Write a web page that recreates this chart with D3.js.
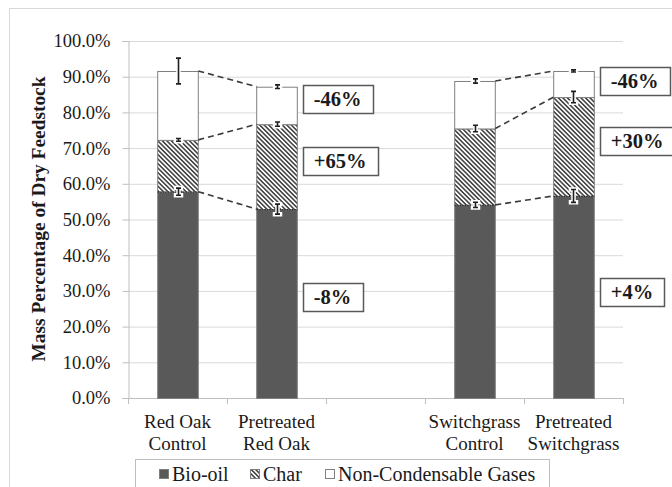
<!DOCTYPE html>
<html>
<head>
<meta charset="utf-8">
<script src="https://cdn.jsdelivr.net/npm/d3@7/dist/d3.min.js"></script>
<style>
body { margin: 0; background: #fff; }
svg { display: block; }
</style>
</head>
<body>
<div id="chart"></div>
<script>
var width = 672,
    height = 487;

function serifFont(size, bold) {
    return (bold ? 'bold ' : '') + size + "px 'Times New Roman'";
}

// categories (two-line labels), the third slot is an empty spacer
var categories = [["Red Oak", "Control"], ["Pretreated", "Red Oak"], ["", ""], ["Switchgrass", "Control"], ["Pretreated", "Switchgrass"]];
var seriesNames = ["Bio-oil", "Char", "Non-Condensable Gases"];

// mass percentages
var bioOil = [57.8, 52.9, 0, 54.1, 56.6];
var charYield = [14.5, 23.8, 0, 21.4, 27.7];
var gases = [19.3, 10.5, 0, 13.3, 7.3];

// error bar half-widths
var bioOilErr = [1.0, 1.4, 0, 0.75, 1.8];
var charErr = [0.4, 0.6, 0, 0.9, 1.6];
var gasesErr = [3.6, 0.5, 0, 0.6, 0.3];

// change annotations: control -> pretreated
var pairs = [[0, 1], [3, 4]];
var redOakChange = ["-8%", "+65%", "-46%"];
var switchgrassChange = ["+4%", "+30%", "-46%"];
var redOakLabelAt = [28.3, 66.4, 83.8];
var switchgrassLabelAt = [29.8, 72.0, 88.8];

var yTicks = [0, 10, 20, 30, 40, 50, 60, 70, 80, 90, 100];

var plot = { left: 128, right: 623, top: 41, bottom: 398 };

var svg = d3.select('#chart')
    .append('svg')
    .attr('width', width)
    .attr('height', height);

var defs = svg.append('defs');
var pat = defs.append('pattern')
    .attr('id', 'hatch')
    .attr('patternUnits', 'userSpaceOnUse')
    .attr('width', 3.2)
    .attr('height', 3.2)
    .attr('patternTransform', 'rotate(45)');
pat.append('rect').attr('width', 3.2).attr('height', 3.2).attr('fill', '#fff');
pat.append('line')
    .attr('x1', 0).attr('y1', 0.8).attr('x2', 3.2).attr('y2', 0.8)
    .attr('stroke', '#2b2b2b').attr('stroke-width', 1.4);

// outer frame
svg.append('rect')
    .attr('x', 9.5).attr('y', 8.5)
    .attr('width', 700).attr('height', 520)
    .attr('fill', 'none')
    .attr('stroke', '#d9d9d9');

var x = d3.scaleBand()
    .domain(d3.range(categories.length))
    .range([plot.left, plot.right])
    .paddingInner(0.59)
    .paddingOuter(0.295);

var y = d3.scaleLinear()
    .domain([0, 100])
    .range([plot.bottom, plot.top]);

// gridlines
svg.append('g')
    .selectAll('line')
    .data(yTicks.slice(1))
    .enter()
    .append('line')
    .attr('x1', plot.left).attr('x2', plot.right)
    .attr('y1', d => y(d) + 0.5).attr('y2', d => y(d) + 0.5)
    .attr('stroke', '#d9d9d9');

// y axis
var yAxis = svg.append('g')
    .attr('transform', 'translate(' + (plot.left + 0.5) + ',0)')
    .call(d3.axisLeft(y).tickValues(yTicks).tickSize(6).tickPadding(12)
        .tickFormat(d => d.toFixed(1) + '%'));
yAxis.attr('font-family', null).attr('font-size', null);
yAxis.select('.domain').attr('stroke', '#bfbfbf');
yAxis.selectAll('.tick line').attr('stroke', '#bfbfbf');
yAxis.selectAll('.tick text')
    .style('font', serifFont(18.5))
    .attr('fill', '#1a1a1a');

// x axis baseline and ticks at category boundaries
var step = x.step();
svg.append('line')
    .attr('x1', plot.left).attr('x2', plot.right)
    .attr('y1', plot.bottom + 0.5).attr('y2', plot.bottom + 0.5)
    .attr('stroke', '#bfbfbf');
svg.append('g')
    .selectAll('line')
    .data(d3.range(categories.length + 1))
    .enter()
    .append('line')
    .attr('x1', i => Math.round(plot.left + i * step) + 0.5)
    .attr('x2', i => Math.round(plot.left + i * step) + 0.5)
    .attr('y1', plot.bottom).attr('y2', plot.bottom + 6)
    .attr('stroke', '#bfbfbf');

// category labels
var catG = svg.append('g')
    .selectAll('text')
    .data(categories)
    .enter()
    .append('text')
    .style('font', serifFont(19))
    .attr('x', (d, i) => x(i) + x.bandwidth() / 2)
    .attr('y', 428)
    .attr('text-anchor', 'middle')
    .attr('fill', '#1a1a1a');
catG.append('tspan').text(d => d[0]);
catG.append('tspan')
    .attr('x', (d, i) => x(i) + x.bandwidth() / 2)
    .attr('dy', 22)
    .text(d => d[1]);

// y axis title
svg.append('text')
    .style('font', serifFont(19.4, true))
    .attr('transform', 'translate(45,219) rotate(-90)')
    .attr('text-anchor', 'middle')
    .attr('fill', '#1a1a1a')
    .text('Mass Percentage of Dry Feedstock');

// stacked data
var rows = categories.map((c, i) => ({ i: i, bio: bioOil[i], char: charYield[i], gas: gases[i] }));
var keys = ['bio', 'char', 'gas'];
var errs = { bio: bioOilErr, char: charErr, gas: gasesErr };
var fills = { bio: '#595959', char: 'url(#hatch)', gas: '#ffffff' };
var stacked = d3.stack().keys(keys)(rows);

var layers = svg.append('g')
    .selectAll('g')
    .data(stacked)
    .enter()
    .append('g');

layers.selectAll('rect')
    .data(d => d.filter(s => s.data.i !== 2))
    .enter()
    .append('rect')
    .attr('x', d => x(d.data.i) + 0.5)
    .attr('y', d => y(d[1]) + 0.5)
    .attr('width', x.bandwidth())
    .attr('height', d => y(d[0]) - y(d[1]))
    .attr('fill', function (d) { return fills[d3.select(this.parentNode).datum().key]; })
    .attr('stroke', '#7f7f7f')
    .attr('stroke-width', 1);

// dotted boundary between bio-oil and char
svg.append('g')
    .selectAll('line')
    .data(rows.filter(r => r.i !== 2))
    .enter()
    .append('line')
    .attr('x1', d => x(d.i) + 0.5)
    .attr('x2', d => x(d.i) + x.bandwidth() + 0.5)
    .attr('y1', d => y(d.bio) + 0.5)
    .attr('y2', d => y(d.bio) + 0.5)
    .attr('stroke', '#262626')
    .attr('stroke-width', 1.2)
    .attr('stroke-dasharray', '1.5,1');

// dashed connectors between control and pretreated bars
var conn = svg.append('g');
pairs.forEach(function (p) {
    stacked.forEach(function (layer) {
        conn.append('line')
            .attr('x1', x(p[0]) + x.bandwidth() + 0.5)
            .attr('y1', y(layer[p[0]][1]))
            .attr('x2', x(p[1]) + 0.5)
            .attr('y2', y(layer[p[1]][1]))
            .attr('stroke', '#3a3a3a')
            .attr('stroke-width', 1.6)
            .attr('stroke-dasharray', '6,4');
    });
});

// error bars with a white halo
var eb = svg.append('g');
stacked.forEach(function (layer) {
    layer.forEach(function (s) {
        var i = s.data.i;
        if (i === 2) return;
        var e = errs[layer.key][i];
        var cx = Math.round(x(i) + x.bandwidth() / 2) + 0.5;
        var y0 = y(s[1] - e), y1 = y(s[1] + e);
        var path = 'M' + (cx - 2.5) + ',' + y1 + 'H' + (cx + 2.5) +
            'M' + cx + ',' + y1 + 'V' + y0 +
            'M' + (cx - 2.5) + ',' + y0 + 'H' + (cx + 2.5);
        eb.append('path').attr('d', path)
            .attr('fill', 'none').attr('stroke', '#fff')
            .attr('stroke-width', 4.5).attr('stroke-linecap', 'square');
        eb.append('path').attr('d', path)
            .attr('fill', 'none').attr('stroke', '#1f1f1f')
            .attr('stroke-width', 1.6);
    });
});

// change annotation boxes
function drawChangeBoxes(idx, texts, at) {
    var bx = x(idx) + x.bandwidth() + 6;
    texts.forEach(function (t, k) {
        var g = svg.append('g');
        var label = g.append('text')
            .style('font', serifFont(20.5, true))
            .attr('x', bx + 11)
            .attr('y', y(at[k]))
            .attr('dy', '0.35em')
            .attr('fill', '#1a1a1a')
            .text(t);
        var w = label.node().getComputedTextLength();
        g.insert('rect', 'text')
            .attr('x', Math.round(bx) + 0.5)
            .attr('y', Math.round(y(at[k]) - 14) + 0.5)
            .attr('width', Math.round(w + 22))
            .attr('height', 28)
            .attr('fill', '#fff')
            .attr('stroke', '#595959')
            .attr('stroke-width', 1.5);
    });
}
drawChangeBoxes(pairs[0][1], redOakChange, redOakLabelAt);
drawChangeBoxes(pairs[1][1], switchgrassChange, switchgrassLabelAt);

// legend
var legend = svg.append('g');
legend.append('rect')
    .attr('x', 135.5).attr('y', 459.5)
    .attr('width', 414).attr('height', 40)
    .attr('fill', '#fff')
    .attr('stroke', '#bfbfbf');
var legendX = [159, 250, 325];
var legendFill = ['#595959', 'url(#hatch)', '#ffffff'];
seriesNames.forEach(function (name, k) {
    legend.append('rect')
        .attr('x', legendX[k] + 0.5).attr('y', 469.5)
        .attr('width', 9).attr('height', 9)
        .attr('fill', legendFill[k])
        .attr('stroke', '#7f7f7f');
    legend.append('text')
        .style('font', serifFont(20))
        .attr('x', legendX[k] + 13)
        .attr('y', 481)
        .attr('fill', '#1a1a1a')
        .text(name);
});
</script>
</body>
</html>
